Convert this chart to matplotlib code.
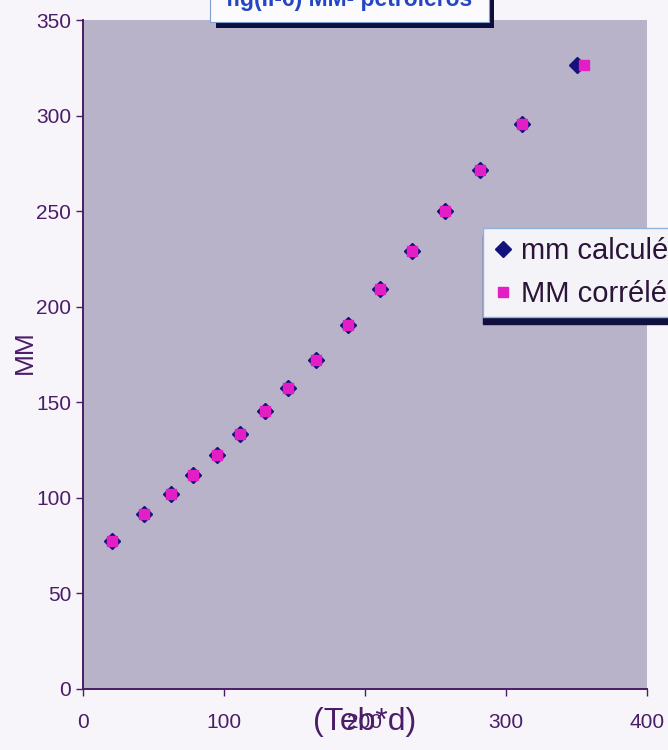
import numpy as np
import matplotlib
matplotlib.use("Agg")
import matplotlib.pyplot as plt
from matplotlib.patches import Rectangle

plt.rcParams['font.family'] = ['Liberation Sans', 'DejaVu Sans']

# data
teb_d_calc = [20.5, 43.5, 62.2, 78.2, 94.8, 111.6, 129.1, 145.6, 165.2, 188.2,
              210.6, 233.5, 256.7, 281.6, 311.1, 350.1]
teb_d_corr = [20.5, 43.5, 62.2, 78.2, 94.8, 111.6, 129.1, 145.6, 165.2, 188.2,
              210.6, 233.5, 256.7, 281.6, 311.1, 355.3]
mm_calc = [77.3, 91.4, 102.2, 112.2, 122.6, 133.4, 145.2, 157.4, 172.3, 190.5,
           209.3, 229.4, 249.9, 271.5, 295.6, 326.5]
mm_corr = [77.3, 91.4, 102.2, 112.2, 122.6, 133.4, 145.2, 157.4, 172.3, 190.5,
           209.3, 229.4, 249.9, 271.5, 295.6, 326.5]
x_ticks = [0, 100, 200, 300, 400]
y_ticks = [0, 50, 100, 150, 200, 250, 300, 350]

W, H = 668, 750
txt_col = '#4a1d68'
navy = '#12127a'
pink = '#e21ec4'

fig = plt.figure(figsize=(W / 100, H / 100), dpi=100)
fig.patch.set_facecolor('#f7f5f9')

ax = fig.add_axes([83 / W, 1 - 689 / H, 564 / W, 669 / H])
ax.set_facecolor('#b8b3c9')

ax.plot(teb_d_calc, mm_calc, linestyle='none', marker='D', markersize=8.6,
        color=navy, label='mm calculée', zorder=3)
ax.plot(teb_d_corr, mm_corr, linestyle='none', marker='s', markersize=7.4,
        color=pink, label='MM corrélée', zorder=4)

ax.set_xlim(0, 400)
ax.set_ylim(0, 350)
ax.set_xticks(x_ticks)
ax.set_yticks(y_ticks)
ax.tick_params(axis='both', colors=txt_col, labelsize=15, length=5, width=1)
ax.tick_params(axis='x', pad=12)
for side in ['top', 'right']:
    ax.spines[side].set_visible(False)
for side in ['left', 'bottom']:
    ax.spines[side].set_color(txt_col)
    ax.spines[side].set_linewidth(1.4)

ax.set_xlabel('(Teb*d)', fontsize=23, color=txt_col)
ax.xaxis.set_label_coords(0.5, (1 - 722 / H - (1 - 689 / H)) / (669 / H))
ax.xaxis.label.set_va('center')
ax.set_ylabel('MM', fontsize=19, color=txt_col)
ax.yaxis.set_label_coords(-58 / 564, 0.503)
ax.yaxis.label.set_va('center')

# legend, running off the right edge like in the scan
leg = ax.legend(loc='upper left', bbox_to_anchor=(483 / W, 1 - 228 / H),
                bbox_transform=fig.transFigure, numpoints=1, fontsize=21,
                frameon=True, fancybox=False, borderpad=0.32, borderaxespad=0,
                handletextpad=0.3, labelspacing=0.5, handlelength=0.7,
                shadow={'color': '#101040', 'alpha': 1, 'ox': 0, 'oy': -5})
leg.get_frame().set_facecolor('#f4f3f8')
leg.get_frame().set_edgecolor('#8fb4dc')
leg.get_frame().set_alpha(1)
for t in leg.get_texts():
    t.set_color('#2a1438')

# clipped title box at the top
def fbox(x0, y0, x1, y1, **kw):
    fig.add_artist(Rectangle((x0 / W, 1 - y1 / H), (x1 - x0) / W, (y1 - y0) / H,
                             transform=fig.transFigure, **kw))

fbox(216, -10, 494, 28, facecolor='#0d0d40', edgecolor='none', zorder=5)
fbox(210, -10, 489, 22, facecolor='#fbfbfe', edgecolor='#7f9fcf', lw=0.8, zorder=6)
fig.text(349 / W, 1 - 6 / H, 'fig(II-6) MM- petroleros', fontsize=16.5,
         fontweight='bold', color='#2446c4', ha='center', va='baseline', zorder=7)

fig.savefig('out.png', dpi=100, facecolor=fig.get_facecolor())
